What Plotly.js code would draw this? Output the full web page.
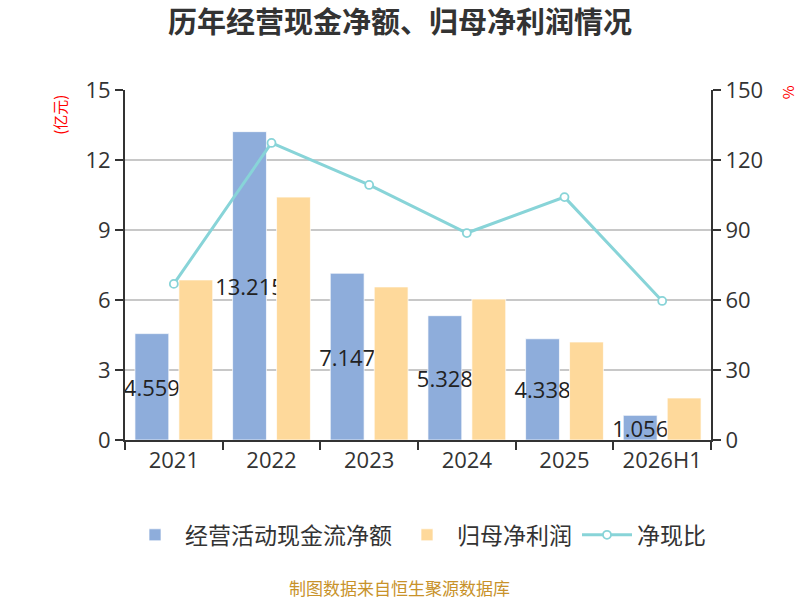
<!DOCTYPE html>
<html>
<head>
<meta charset="utf-8">
<script src="https://cdn.plot.ly/plotly-3.0.1.min.js"></script>
<style>
  html, body { margin: 0; padding: 0; background: #fff; }
  #chart { width: 800px; height: 600px; }
</style>
</head>
<body>
<div id="chart"></div>
<script>
  // 数据
  var years = ["2021", "2022", "2023", "2024", "2025", "2026H1"];
  var cashFlow = [4.559, 13.215, 7.147, 5.328, 4.338, 1.056];
  var netProfit = [6.86, 10.41, 6.56, 6.04, 4.2, 1.8];
  var cashRatio = [66.9, 127.3, 109.3, 88.7, 104.1, 59.6];

  var FONT = "Noto Sans CJK SC, Noto Sans, sans-serif";
  var NUM_FONT = "Open Sans, Noto Sans CJK SC, sans-serif";

  var traces = [
    {
      type: "bar",
      name: "经营活动现金流净额",
      x: years,
      y: cashFlow,
      marker: { color: "#8eaddb", line: { color: "rgba(255,255,255,0.7)", width: 1 } },
      text: cashFlow.map(function (v) { return v.toFixed(3); }),
      textposition: "inside",
      insidetextanchor: "middle",
      constraintext: "none",
      textangle: 0,
      textfont: { size: 22, color: "#222", family: NUM_FONT },
      cliponaxis: false,
      hoverinfo: "x+y"
    },
    {
      type: "bar",
      name: "归母净利润",
      x: years,
      y: netProfit,
      marker: { color: "#fed99b", line: { color: "rgba(255,255,255,0.7)", width: 1 } },
      hoverinfo: "x+y"
    },
    {
      type: "scatter",
      mode: "lines+markers",
      name: "净现比",
      x: years,
      y: cashRatio,
      yaxis: "y2",
      line: { color: "#88d4d8", width: 3 },
      marker: { size: 8, color: "#fff", line: { color: "#88d4d8", width: 1.8 } },
      hoverinfo: "x+y"
    }
  ];

  var tickStyle = {
    showline: true,
    linecolor: "#333",
    linewidth: 2,
    ticks: "outside",
    ticklen: 8,
    tickwidth: 2,
    tickcolor: "#333",
    tickfont: { size: 22, color: "#333", family: NUM_FONT },
    zeroline: false
  };

  var layout = {
    width: 800,
    height: 600,
    margin: { l: 125, r: 89, t: 90, b: 160 },
    paper_bgcolor: "#fff",
    plot_bgcolor: "#fff",
    font: { family: FONT, color: "#333", size: 20 },
    title: {
      text: "<b>历年经营现金净额、归母净利润情况</b>",
      x: 0.5,
      xanchor: "center",
      y: 0.962,
      yanchor: "middle",
      font: { size: 29, color: "#333", family: FONT }
    },
    barmode: "group",
    bargap: 0.1,
    bargroupgap: 0.23,
    showlegend: true,
    legend: {
      orientation: "h",
      x: 0.5,
      xanchor: "center",
      y: -0.271,
      yanchor: "middle",
      font: { size: 23, color: "#333", family: FONT },
      itemwidth: 50
    },
    xaxis: Object.assign({}, tickStyle, {
      type: "category",
      tickson: "boundaries",
      showgrid: false
    }),
    yaxis: Object.assign({}, tickStyle, {
      range: [0, 15],
      dtick: 3,
      tick0: 0,
      showgrid: true,
      gridcolor: "#c8c8c8",
      gridwidth: 1.5
    }),
    yaxis2: Object.assign({}, tickStyle, {
      overlaying: "y",
      side: "right",
      range: [0, 150],
      dtick: 30,
      tick0: 0,
      showgrid: false
    }),
    annotations: [
      {
        text: "(亿元)",
        xref: "paper", yref: "paper",
        x: -0.112, y: 0.93,
        xanchor: "center", yanchor: "middle",
        textangle: -90,
        showarrow: false,
        font: { size: 15, color: "#ff0000", family: FONT }
      },
      {
        text: "%",
        xref: "paper", yref: "paper",
        x: 1.13, y: 0.994,
        xanchor: "center", yanchor: "middle",
        textangle: -90,
        showarrow: false,
        font: { size: 15, color: "#ff0000", family: FONT }
      },
      {
        text: "制图数据来自恒生聚源数据库",
        xref: "paper", yref: "paper",
        x: 0.469, y: -0.42,
        xanchor: "center", yanchor: "middle",
        showarrow: false,
        font: { size: 17, color: "#c8922a", family: FONT }
      }
    ]
  };

  Plotly.newPlot("chart", traces, layout, { displayModeBar: false, responsive: false });
</script>
</body>
</html>
